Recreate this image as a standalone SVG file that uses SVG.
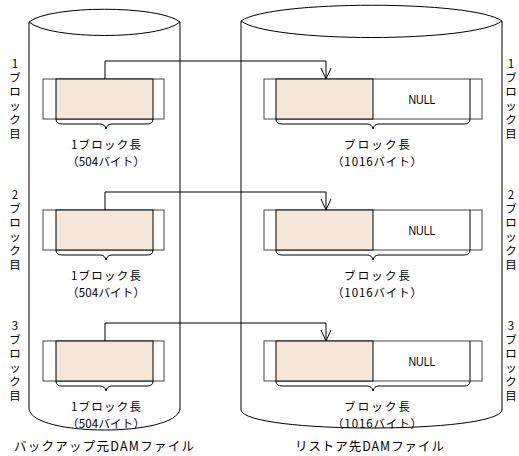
<svg xmlns="http://www.w3.org/2000/svg" width="519" height="456" viewBox="0 0 519 456">
<style>
.cyl{fill:#fff;stroke:#000;stroke-width:1}
.outer{fill:#fff;stroke:#444;stroke-width:1}
.data{fill:#F5E6D8;stroke:#000;stroke-width:1}
.div{stroke:#000;stroke-width:1;fill:none}
.brace{fill:none;stroke:#000;stroke-width:1}
.conn{fill:none;stroke:#000;stroke-width:1}
text{font-family:"Noto Sans CJK JP","Noto Sans",sans-serif;font-size:11.5px;fill:#000}
.null{font-family:"Liberation Sans",sans-serif;font-size:13px}
.mid{text-anchor:middle}
.cap{font-size:12.5px}
</style>
<defs>
<marker id="arr" markerWidth="14" markerHeight="12" refX="12" refY="6" orient="auto" markerUnits="userSpaceOnUse" viewBox="0 0 14 12">
<path d="M1,1 L12,6 L1,11" fill="none" stroke="#000" stroke-width="1"/>
</marker>
</defs>

<g id="cylinder-source">
<path class="cyl" d="M29,22 V409 C33,437 176,437 180,409 V22"/>
<path class="cyl" d="M29,22 C50,5 159,5 180,22 C159,40 50,40 29,22 Z"/>
</g>
<g id="cylinder-dest">
<path class="cyl" d="M241,21 V410 C245,434 498,434 502,410 V21"/>
<path class="cyl" d="M241,21 C270,0 473,0 502,21 C473,43 270,43 241,21 Z"/>
</g>

<g id="src-block1">
<rect class="outer" x="43" y="79" width="121" height="40"/>
<rect class="data" x="56" y="79" width="97" height="40"/>
<path class="brace" d="M56,119 Q56,124 62,124 L100,124 Q105,124 106,129 Q107,124 112,124 L147,124 Q153,124 153,119"/>
<text class="mid" x="106" y="149" textLength="70">1ブロック長</text>
<text class="mid" x="106" y="166" textLength="78">（504バイト）</text>
</g>
<g id="src-block2">
<rect class="outer" x="43" y="210" width="121" height="40"/>
<rect class="data" x="56" y="210" width="97" height="40"/>
<path class="brace" d="M56,250 Q56,255 62,255 L100,255 Q105,255 106,260 Q107,255 112,255 L147,255 Q153,255 153,250"/>
<text class="mid" x="106" y="280" textLength="70">1ブロック長</text>
<text class="mid" x="106" y="297" textLength="78">（504バイト）</text>
</g>
<g id="src-block3">
<rect class="outer" x="43" y="341" width="121" height="40"/>
<rect class="data" x="56" y="341" width="97" height="40"/>
<path class="brace" d="M56,381 Q56,386 62,386 L100,386 Q105,386 106,391 Q107,386 112,386 L147,386 Q153,386 153,381"/>
<text class="mid" x="106" y="411" textLength="70">1ブロック長</text>
<text class="mid" x="106" y="428" textLength="78">（504バイト）</text>
</g>

<g id="dst-block1">
<rect class="outer" x="264" y="79" width="218" height="40"/>
<rect class="data" x="276" y="79" width="97" height="40"/>
<line class="div" x1="470" y1="79" x2="470" y2="119"/>
<text class="null mid" x="422" y="104" textLength="27" lengthAdjust="spacingAndGlyphs">NULL</text>
<path class="brace" d="M276,119 Q276,124 282,124 L367,124 Q372,124 373,129 Q374,124 379,124 L464,124 Q470,124 470,119"/>
<text class="mid" x="377" y="149" textLength="66">ブロック長</text>
<text class="mid" x="377" y="166" textLength="90">（1016バイト）</text>
</g>
<g id="dst-block2">
<rect class="outer" x="264" y="210" width="218" height="40"/>
<rect class="data" x="276" y="210" width="97" height="40"/>
<line class="div" x1="470" y1="210" x2="470" y2="250"/>
<text class="null mid" x="422" y="235" textLength="27" lengthAdjust="spacingAndGlyphs">NULL</text>
<path class="brace" d="M276,250 Q276,255 282,255 L367,255 Q372,255 373,260 Q374,255 379,255 L464,255 Q470,255 470,250"/>
<text class="mid" x="377" y="280" textLength="66">ブロック長</text>
<text class="mid" x="377" y="297" textLength="90">（1016バイト）</text>
</g>
<g id="dst-block3">
<rect class="outer" x="264" y="341" width="218" height="40"/>
<rect class="data" x="276" y="341" width="97" height="40"/>
<line class="div" x1="470" y1="341" x2="470" y2="381"/>
<text class="null mid" x="422" y="366" textLength="27" lengthAdjust="spacingAndGlyphs">NULL</text>
<path class="brace" d="M276,381 Q276,386 282,386 L367,386 Q372,386 373,391 Q374,386 379,386 L464,386 Q470,386 470,381"/>
<text class="mid" x="377" y="411" textLength="66">ブロック長</text>
<text class="mid" x="377" y="428" textLength="90">（1016バイト）</text>
</g>

<g id="connectors">
<path class="conn" d="M105,79 V61 H326 V79" marker-end="url(#arr)"/>
<path class="conn" d="M105,210 V192 H326 V210" marker-end="url(#arr)"/>
<path class="conn" d="M105,341 V323 H326 V341" marker-end="url(#arr)"/>
</g>

<g id="labels-left">
<text class="mid"><tspan x="15" y="68">1</tspan><tspan x="15" y="82">ブ</tspan><tspan x="15" y="96">ロ</tspan><tspan x="15" y="110">ッ</tspan><tspan x="15" y="124">ク</tspan><tspan x="15" y="138">目</tspan></text>
<text class="mid"><tspan x="15" y="199">2</tspan><tspan x="15" y="213">ブ</tspan><tspan x="15" y="227">ロ</tspan><tspan x="15" y="241">ッ</tspan><tspan x="15" y="255">ク</tspan><tspan x="15" y="269">目</tspan></text>
<text class="mid"><tspan x="15" y="330">3</tspan><tspan x="15" y="344">ブ</tspan><tspan x="15" y="358">ロ</tspan><tspan x="15" y="372">ッ</tspan><tspan x="15" y="386">ク</tspan><tspan x="15" y="400">目</tspan></text>
</g>
<g id="labels-right">
<text class="mid"><tspan x="511" y="68">1</tspan><tspan x="511" y="82">ブ</tspan><tspan x="511" y="96">ロ</tspan><tspan x="511" y="110">ッ</tspan><tspan x="511" y="124">ク</tspan><tspan x="511" y="138">目</tspan></text>
<text class="mid"><tspan x="511" y="199">2</tspan><tspan x="511" y="213">ブ</tspan><tspan x="511" y="227">ロ</tspan><tspan x="511" y="241">ッ</tspan><tspan x="511" y="255">ク</tspan><tspan x="511" y="269">目</tspan></text>
<text class="mid"><tspan x="511" y="330">3</tspan><tspan x="511" y="344">ブ</tspan><tspan x="511" y="358">ロ</tspan><tspan x="511" y="372">ッ</tspan><tspan x="511" y="386">ク</tspan><tspan x="511" y="400">目</tspan></text>
</g>

<g id="captions">
<text class="cap" x="14" y="451" textLength="180">バックアップ元DAMファイル</text>
<text class="cap" x="295" y="451" textLength="149">リストア先DAMファイル</text>
</g>
</svg>
